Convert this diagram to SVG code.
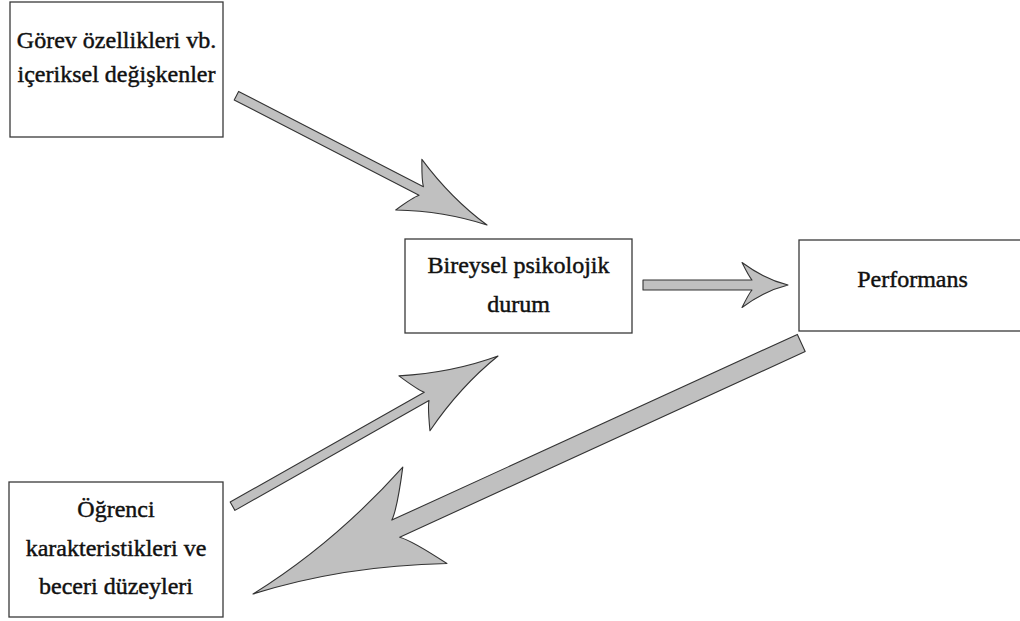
<svg xmlns="http://www.w3.org/2000/svg" width="1020" height="621" viewBox="0 0 1020 621">
  <style>
    .box { fill: #ffffff; stroke: #3a3a3a; stroke-width: 1.3; }
    .label { font-family: "Liberation Serif", "Times New Roman", serif; font-size: 24px; fill: #111111; stroke: #111111; stroke-width: 0.45; text-anchor: middle; }
    .arrow { fill: #c0c0c0; stroke: #333333; stroke-width: 1.1; stroke-linejoin: round; }
  </style>
  <rect width="1020" height="621" fill="#ffffff"/>

  <!-- connectors: block arrows drawn with the tip at the local origin, pointing +x -->
  <g id="connectors">
    <path class="arrow" transform="translate(487,225) rotate(27.3)"
          d="M0,0 Q-44,-7 -88,-28.5 Q-78.2,-9.1 -74,-4.8 L-282,-4.8 L-282,4.8 L-74,4.8 Q-78.2,9.1 -88,28.5 Q-44,7 0,0 Z"/>
    <path class="arrow" transform="translate(788,285)"
          d="M0,0 Q-23,-5.6 -46,-22.5 Q-39,-8.4 -36,-5 L-145,-5 L-145,5 L-36,5 Q-39,8.4 -46,22.5 Q-23,5.6 0,0 Z"/>
    <path class="arrow" transform="translate(498,356) rotate(-29.5)"
          d="M0,0 Q-48,-7.9 -96,-31.5 Q-86.2,-9.5 -82,-4.8 L-305,-4.8 L-305,4.8 L-82,4.8 Q-86.2,9.5 -96,31.5 Q-48,7.9 0,0 Z"/>
    <path class="arrow" transform="translate(253,594) rotate(155.4)"
          d="M0,0 Q-94.5,-12 -189,-53 Q-166.6,-17.4 -157,-9.4 L-603,-9.4 L-603,9.4 L-157,9.4 Q-166.6,17.4 -189,53 Q-94.5,12 0,0 Z"/>
  </g>

  <g id="node-gorev">
    <rect class="box" x="10" y="2" width="213" height="135"/>
    <text class="label" x="116.5" y="48">Görev özellikleri vb.</text>
    <text class="label" x="116.5" y="82">içeriksel değişkenler</text>
  </g>

  <g id="node-bireysel">
    <rect class="box" x="405" y="239" width="227" height="94"/>
    <text class="label" x="518.5" y="273">Bireysel psikolojik</text>
    <text class="label" x="518.5" y="312">durum</text>
  </g>

  <g id="node-performans">
    <rect class="box" x="799" y="240" width="227" height="91"/>
    <text class="label" x="912.5" y="287">Performans</text>
  </g>

  <g id="node-ogrenci">
    <rect class="box" x="9" y="482" width="214" height="135"/>
    <text class="label" x="116" y="517">Öğrenci</text>
    <text class="label" x="116" y="556">karakteristikleri ve</text>
    <text class="label" x="116" y="594">beceri düzeyleri</text>
  </g>
</svg>
